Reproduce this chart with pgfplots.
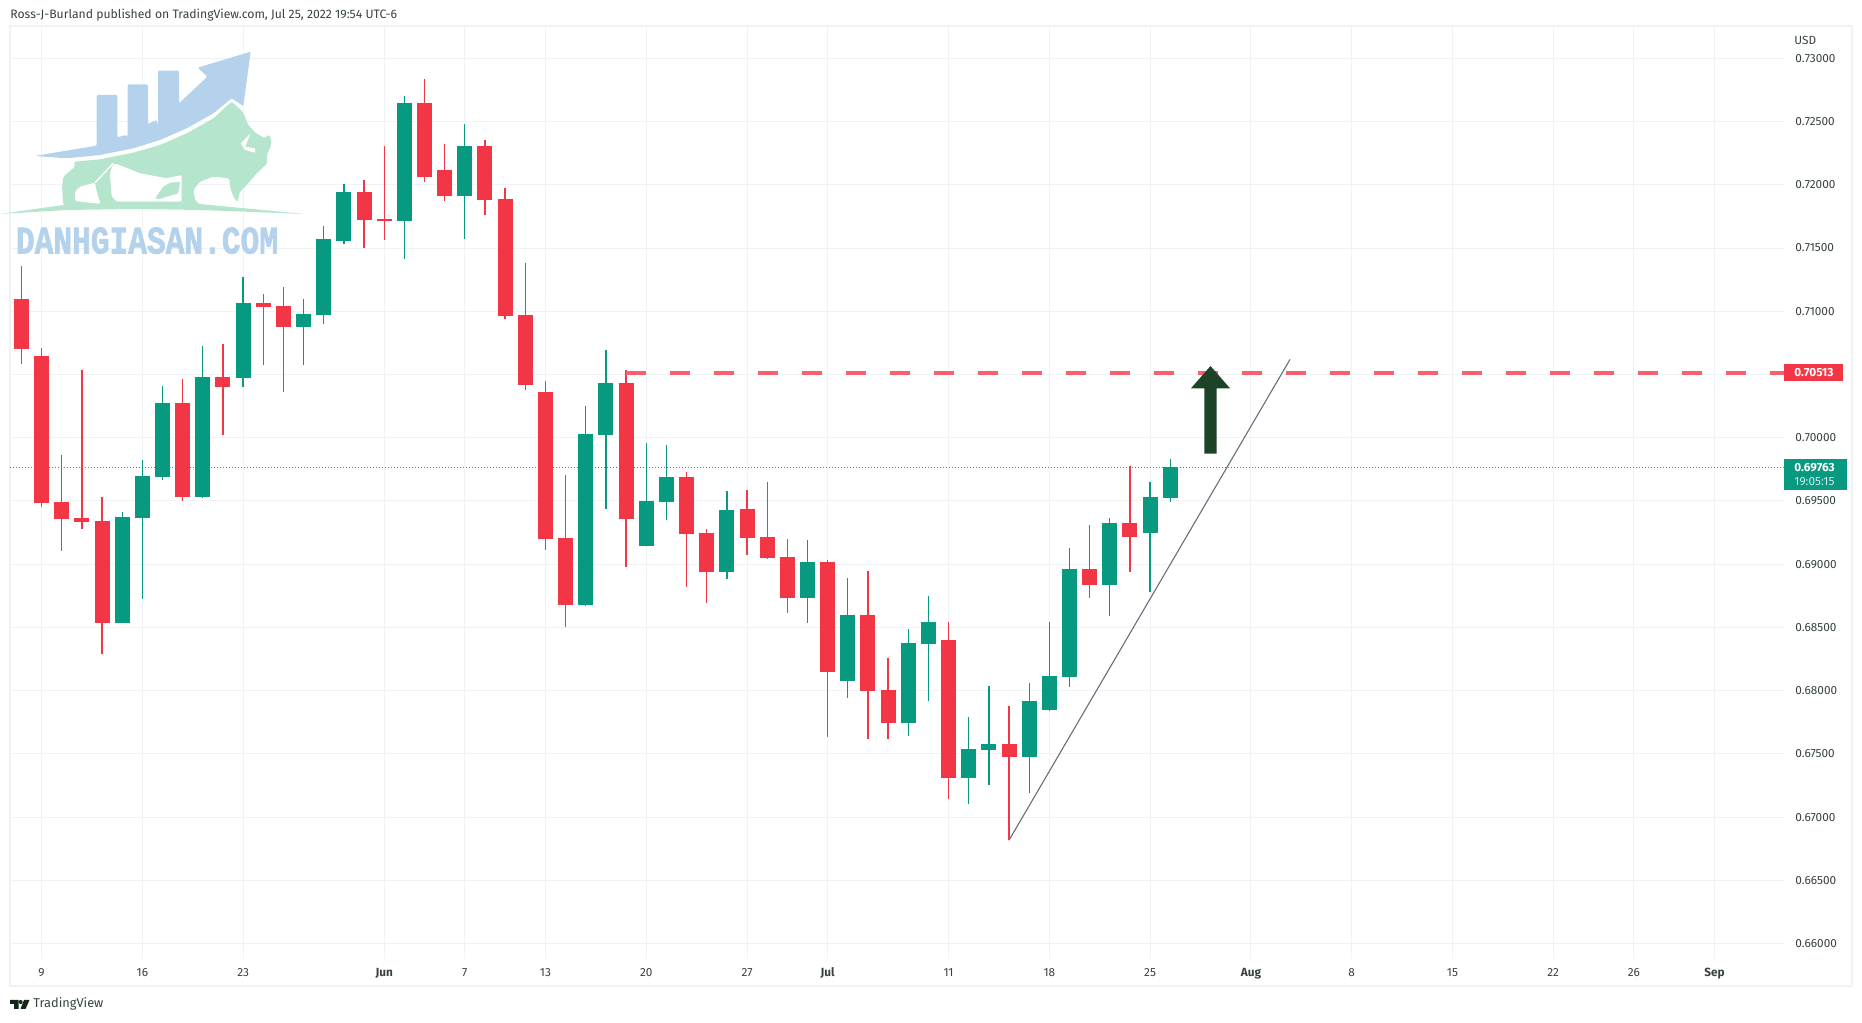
\documentclass[border=0pt]{standalone}
\usepackage{graphicx}
\usepackage{fontspec}
\setmainfont{Fira Sans}
\newfontfamily\logofont[BoldFont={Liberation Mono Bold},BoldFeatures={FakeBold=2}]{Liberation Mono}
\usepackage{pgfplots}
\usepackage{pgfplotstable}
\pgfplotsset{compat=1.18}
\definecolor{tvred}{HTML}{F23645}
\definecolor{tvgreen}{HTML}{089981}
\definecolor{dashred}{HTML}{F7606C}
\definecolor{gridc}{HTML}{F0F3F5}
\definecolor{framec}{HTML}{F0F3F5}
\definecolor{txt}{HTML}{37423F}
\definecolor{logoblue}{HTML}{B5D2EC}
\definecolor{logogreen}{HTML}{B5E5CC}
\definecolor{arrowc}{HTML}{1C4327}
\definecolor{trend}{HTML}{6A6D78}
\pgfplotstableread{
x low bot top high
0 0.70582 0.70701 0.71098 0.71357
1 0.69455 0.69486 0.70645 0.70711
2 0.69105 0.69358 0.69493 0.69864
3 0.69280 0.69336 0.69368 0.70536
4 0.68293 0.68537 0.69343 0.69533
8 0.69502 0.69533 0.70276 0.70464
10 0.70023 0.70401 0.70479 0.70742
12 0.70576 0.71032 0.71063 0.71135
13 0.70361 0.70876 0.71042 0.71191
17 0.71501 0.71719 0.71941 0.72038
18 0.71563 0.71713 0.71729 0.72306
20 0.72019 0.72060 0.72644 0.72834
21 0.71869 0.71910 0.72116 0.72322
23 0.71760 0.71879 0.72306 0.72353
24 0.70938 0.70963 0.71885 0.71972
25 0.70376 0.70417 0.70970 0.71382
26 0.69115 0.69202 0.70361 0.70448
27 0.68505 0.68679 0.69208 0.69705
30 0.68979 0.69358 0.70432 0.70534
33 0.68821 0.69239 0.69689 0.69729
34 0.68695 0.68939 0.69247 0.69279
36 0.69074 0.69208 0.69437 0.69587
37 0.69042 0.69050 0.69216 0.69650
38 0.68616 0.68734 0.69058 0.69200
40 0.67637 0.68150 0.69018 0.69034
42 0.67621 0.68000 0.68600 0.68947
43 0.67621 0.67747 0.68008 0.68260
46 0.67147 0.67313 0.68403 0.68545
49 0.66818 0.67479 0.67582 0.67882
53 0.68734 0.68837 0.68963 0.69311
55 0.68939 0.69216 0.69326 0.69776
}\redT
\pgfplotstableread{
x low bot top high
5 0.68537 0.68537 0.69374 0.69414
6 0.68727 0.69368 0.69699 0.69824
7 0.69667 0.69689 0.70276 0.70411
9 0.69524 0.69533 0.70479 0.70726
11 0.70401 0.70473 0.71063 0.71270
14 0.70576 0.70876 0.70979 0.71098
15 0.70898 0.70970 0.71569 0.71672
16 0.71532 0.71554 0.71941 0.72003
19 0.71413 0.71713 0.72644 0.72700
22 0.71569 0.71910 0.72306 0.72478
28 0.68671 0.68679 0.70029 0.70250
29 0.69437 0.70021 0.70432 0.70692
31 0.69145 0.69145 0.69500 0.69958
32 0.69350 0.69492 0.69689 0.69942
35 0.68884 0.68939 0.69429 0.69579
39 0.68537 0.68734 0.69018 0.69192
41 0.67945 0.68079 0.68600 0.68892
44 0.67645 0.67747 0.68379 0.68489
45 0.67921 0.68371 0.68545 0.68750
47 0.67108 0.67313 0.67542 0.67795
48 0.67258 0.67534 0.67582 0.68039
50 0.67195 0.67479 0.67921 0.68063
51 0.67842 0.67850 0.68118 0.68545
52 0.68032 0.68111 0.68963 0.69129
54 0.68592 0.68837 0.69326 0.69366
56 0.68782 0.69247 0.69532 0.69650
57 0.69492 0.69524 0.69768 0.69832
}\greenT
\newcommand\candles[2]{%
  \addplot[forget plot,draw=none,mark=none,
    error bars/.cd,y dir=both,y explicit,error mark=none,
    error bar style={draw=#1,line width=0.65pt}]
    table[x=x,y=top,y error plus expr=\thisrow{high}-\thisrow{top},
      y error minus expr=\thisrow{top}-\thisrow{low}]{#2};
  \addplot[forget plot,draw=none,mark=none,
    error bars/.cd,y dir=minus,y explicit,error mark=none,
    error bar style={draw=#1,line width=7.5pt}]
    table[x=x,y=top,y error plus expr=0,
      y error minus expr=\thisrow{top}-\thisrow{bot}]{#2};
}
\begin{document}
\begin{tikzpicture}[x=1pt,y=1pt]
\path[use as bounding box] (0,0) rectangle (931,511);
\begin{scope}[x=0.5pt,y=-0.5pt,yshift=511pt]
  \draw[framec,line width=1pt] (10,26.5) rectangle (1851.5,986.5);
\end{scope}
\begin{axis}[
  at={(5pt,31.5pt)},anchor=south west,
  scale only axis,width=887pt,height=466pt,
  xmin=-0.566,xmax=87.45,ymin=0.65879,ymax=0.732475,
  axis line style={draw=none},
  major tick length=0pt,
  grid=major,
  major grid style={draw=gridc,line width=0.5pt},
  xtick={1,6,11,18,22,26,31,36,40,46,51,56,61,66,71,76,80,84},
  xticklabels={9,16,23,{\bfseries Jun},7,13,20,27,{\bfseries Jul},11,18,25,{\bfseries Aug},8,15,22,26,{\bfseries Sep}},
  ytick={0.66,0.665,0.67,0.675,0.68,0.685,0.69,0.695,0.70,0.705,0.71,0.715,0.72,0.725,0.73},
  yticklabel pos=right,
  scaled y ticks=false,
  yticklabel style={/pgf/number format/fixed,/pgf/number format/fixed zerofill,
    /pgf/number format/precision=5,/pgf/number format/assume math mode=true,
    anchor=west,xshift=2.2pt,text=txt,font=\fontsize{5.9}{7}\selectfont},
  xticklabel style={anchor=base,yshift=-9pt,text=txt,font=\fontsize{5.9}{7}\selectfont},
  clip=true,
]
\addplot[forget plot,tvgreen,line width=0.5pt,dash pattern=on 0.5pt off 1pt] coordinates {(-0.566,0.69763) (87.45,0.69763)};
\candles{tvred}{\redT}
\candles{tvgreen}{\greenT}
\addplot[forget plot,dashred,line width=2pt,dash pattern=on 10pt off 12pt] coordinates {(30,0.70513) (87.45,0.70513)};
\addplot[forget plot,trend,line width=0.55pt] coordinates {(49,0.66818) (62.94,0.70619)};
\end{axis}
% annotations, in pixel coordinates of the reference
\begin{scope}[x=0.5pt,y=-0.5pt,yshift=511pt]
  \fill[arrowc] (1204.3,453.7) -- (1216.7,453.7) -- (1216.7,388.3) -- (1230,388.3) -- (1210.5,366) -- (1191,388.3) -- (1204.3,388.3) -- cycle;
  \fill[tvred] (1784,364) rectangle (1843,380.7);
  \node[anchor=west,inner sep=0pt,text=white,font=\fontsize{5.9}{7}\selectfont\bfseries] at (1794,372.5) {0.70513};
  \fill[tvgreen] (1784,459) rectangle (1847,490);
  \node[anchor=west,inner sep=0pt,text=white,font=\fontsize{5.9}{7}\selectfont\bfseries] at (1794,468) {0.69763};
  \node[anchor=west,inner sep=0pt,text=white!80!tvgreen,font=\fontsize{5.9}{7}\selectfont] at (1794,482) {19:05:15};
  \node[anchor=west,inner sep=0pt,text=txt,font=\fontsize{5.9}{7}\selectfont] at (1794,40.7) {USD};
  \node[anchor=west,inner sep=0pt,text=txt,font=\fontsize{6.1}{7}\selectfont] at (10,15) {Ross-J-Burland published on TradingView.com, Jul 25, 2022 19:54 UTC-6};
  \node[anchor=west,inner sep=0pt,text=txt,font=\fontsize{6.4}{7}\selectfont] at (33,1004) {TradingView};
  \fill[arrowc!60!black] (10,1000) -- (18.5,1000) -- (18.5,1009) -- (14,1009) -- (14,1004) -- (10,1004) -- cycle;
  \fill[arrowc!60!black] (20.7,1002) circle (2);
  \fill[arrowc!60!black] (24,1000) -- (29.5,1000) -- (25.5,1009) -- (20.5,1009) -- cycle;
\end{scope}
% logo, in coordinates of a 3x crop
\begin{scope}[x=0.16667pt,y=-0.16667pt,yshift=511pt]
  \fill[logoblue,rounded corners=0.6pt] (103,468) -- (290,437) -- (290,285) -- (352,285) -- (352,412) -- (378,405) -- (383,410) -- (383,253) -- (444,253) -- (444,372) -- (470,360) -- (474,375) -- (474,212) -- (537,212) -- (537,310) -- (622,230) -- (593,203) -- (752,155) -- (730,318) -- (695,295) -- (640,340) -- (560,385) -- (480,420) -- (400,445) -- (300,465) -- (200,475) -- cycle;
  \fill[logogreen,rounded corners=0.8pt] (695,305) -- (728,335) -- (745,375) -- (768,400) -- (795,415) -- (805,403) -- (815,420) -- (812,440) -- (800,465) -- (802,490) -- (770,520) -- (745,550) -- (720,575) -- (712,607) -- (700,590) -- (690,560) -- (688,535) -- (640,530) -- (600,545) -- (580,570) -- (585,600) -- (600,615) -- (190,615) -- (186,560) -- (190,530) -- (225,500) -- (222,485) -- (300,478) -- (400,458) -- (480,435) -- (560,400) -- (640,355) -- cycle;
  \fill[logogreen] (0,642) -- (190,615) -- (600,612) -- (915,642) -- (600,630) -- (400,627) -- (200,630) -- cycle;
  \fill[white,rounded corners=0.8pt] (225,603) -- (225,575) -- (240,560) -- (285,548) -- (290,575) -- (302,612) -- cycle;
  \fill[white,rounded corners=0.8pt] (337,498) -- (330,520) -- (335,590) -- (350,605) -- (545,605) -- (545,525) -- (500,535) -- (420,520) -- (345,490) -- cycle;
  \draw[white,line width=0.7pt] (285,548) -- (340,490);
  \fill[logogreen,rounded corners=0.5pt] (465,595) -- (490,560) -- (510,548) -- (540,545) -- (535,580) -- (500,590) -- (480,597) -- cycle;
  \fill[white,rounded corners=0.3pt] (722,430) -- (752,400) -- (735,440) -- (765,445) -- (765,458) -- (735,450) -- cycle;
  \node[anchor=center,inner sep=0pt,text=logoblue,font=\fontsize{15.6}{16}\selectfont\logofont\bfseries] at (441,722) {\scalebox{1}[1.25]{DANHGIASAN.COM}};
\end{scope}
\end{tikzpicture}
\end{document}
